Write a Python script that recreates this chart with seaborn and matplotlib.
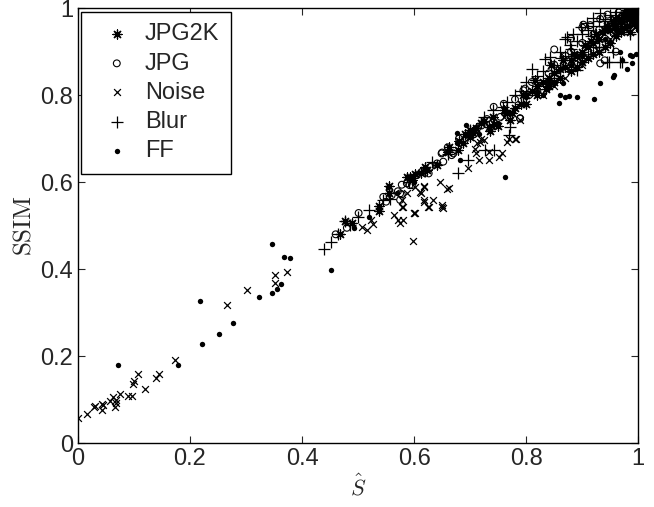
import numpy as np
import pandas as pd
import seaborn as sns
import matplotlib.pyplot as plt

# valores (S chapeu, SSIM) por tipo de distorcao
jpg2k_x = [0.467, 0.476, 0.490, 0.537, 0.538, 0.555, 0.556, 0.587, 0.593, 0.596, 0.602, 0.612,
           0.620, 0.623, 0.640, 0.660, 0.663, 0.679, 0.680, 0.688, 0.690, 0.700, 0.700, 0.705,
           0.710, 0.720, 0.725, 0.733, 0.736, 0.740, 0.742, 0.750, 0.760, 0.766, 0.771, 0.775,
           0.780, 0.790, 0.800, 0.800, 0.810, 0.820, 0.820, 0.830, 0.835, 0.840, 0.840, 0.850,
           0.850, 0.860, 0.860, 0.870, 0.880, 0.880, 0.885, 0.890, 0.890, 0.900, 0.900, 0.910,
           0.910, 0.915, 0.920, 0.920, 0.930, 0.930, 0.935, 0.940, 0.940, 0.950, 0.950, 0.955,
           0.960, 0.960, 0.965, 0.970, 0.970, 0.975, 0.980, 0.980, 0.985, 0.990, 0.990, 0.995,
           0.997, 1.000, 0.945, 0.958, 0.962, 0.972, 0.978, 0.983, 0.988, 0.993, 0.996, 0.999,
           0.975, 0.985, 0.992, 0.998, 0.905, 0.925, 0.865, 0.845, 0.815, 0.795]
jpg2k_y = [0.480, 0.510, 0.505, 0.545, 0.534, 0.575, 0.590, 0.612, 0.612, 0.605, 0.618, 0.620,
           0.635, 0.628, 0.640, 0.670, 0.681, 0.674, 0.695, 0.689, 0.710, 0.704, 0.720, 0.712,
           0.725, 0.735, 0.740, 0.727, 0.717, 0.750, 0.733, 0.730, 0.765, 0.758, 0.743, 0.760,
           0.770, 0.780, 0.800, 0.780, 0.810, 0.820, 0.800, 0.830, 0.815, 0.840, 0.820, 0.850,
           0.830, 0.860, 0.840, 0.865, 0.880, 0.855, 0.895, 0.890, 0.865, 0.900, 0.875, 0.910,
           0.885, 0.925, 0.920, 0.895, 0.930, 0.900, 0.945, 0.950, 0.910, 0.950, 0.920, 0.965,
           0.960, 0.935, 0.975, 0.970, 0.945, 0.980, 0.985, 0.960, 0.990, 0.990, 0.975, 0.995,
           0.985, 1.000, 0.960, 0.975, 0.950, 0.985, 0.995, 0.975, 0.998, 0.985, 0.960, 0.992,
           0.955, 0.945, 0.965, 0.975, 0.915, 0.940, 0.880, 0.870, 0.835, 0.800]

jpg_x = [0.460, 0.480, 0.501, 0.545, 0.550, 0.560, 0.571, 0.575, 0.575, 0.578, 0.578, 0.587,
         0.592, 0.596, 0.605, 0.614, 0.626, 0.629, 0.641, 0.649, 0.650, 0.652, 0.660, 0.667,
         0.670, 0.680, 0.690, 0.700, 0.709, 0.712, 0.720, 0.730, 0.742, 0.754, 0.760, 0.780,
         0.789, 0.789, 0.795, 0.798, 0.810, 0.820, 0.840, 0.850, 0.850, 0.860, 0.870, 0.880,
         0.880, 0.890, 0.900, 0.900, 0.902, 0.910, 0.914, 0.920, 0.930, 0.932, 0.932, 0.940,
         0.940, 0.950, 0.960, 0.960, 0.970, 0.980, 0.990, 0.995, 0.945, 0.955, 0.965, 0.975,
         0.985, 0.988, 0.996, 0.925, 0.895, 0.875, 0.835, 0.805]
jpg_y = [0.480, 0.495, 0.529, 0.566, 0.555, 0.570, 0.579, 0.574, 0.559, 0.572, 0.594, 0.597,
         0.593, 0.593, 0.616, 0.624, 0.620, 0.635, 0.643, 0.666, 0.668, 0.647, 0.680, 0.662,
         0.666, 0.700, 0.695, 0.710, 0.720, 0.723, 0.730, 0.745, 0.773, 0.750, 0.780, 0.790,
         0.747, 0.746, 0.811, 0.815, 0.830, 0.810, 0.850, 0.870, 0.905, 0.860, 0.890, 0.900,
         0.930, 0.870, 0.920, 0.955, 0.962, 0.900, 0.961, 0.940, 0.950, 0.873, 0.975, 0.930,
         0.880, 0.960, 0.970, 0.900, 0.980, 0.970, 0.990, 1.000, 0.985, 0.945, 0.990, 0.960,
         0.995, 0.975, 0.985, 0.915, 0.890, 0.860, 0.825, 0.800]

noise_x = [0.000, 0.017, 0.029, 0.031, 0.043, 0.043, 0.045, 0.058, 0.063, 0.066, 0.068, 0.068,
           0.075, 0.090, 0.096, 0.098, 0.101, 0.108, 0.120, 0.140, 0.145, 0.173, 0.267, 0.301,
           0.352, 0.352, 0.373, 0.507, 0.516, 0.523, 0.526, 0.565, 0.571, 0.575, 0.578, 0.579,
           0.580, 0.581, 0.587, 0.598, 0.599, 0.600, 0.601, 0.602, 0.611, 0.612, 0.617, 0.617,
           0.617, 0.618, 0.624, 0.626, 0.634, 0.646, 0.649, 0.650, 0.651, 0.658, 0.662, 0.697,
           0.709, 0.711, 0.712, 0.716, 0.718, 0.720, 0.724, 0.733, 0.733, 0.752, 0.757, 0.760,
           0.766, 0.769, 0.780, 0.781, 0.789, 0.830, 0.850, 0.870, 0.900, 0.930, 0.950, 0.970,
           0.980, 0.990, 1.000]
noise_y = [0.057, 0.067, 0.082, 0.086, 0.090, 0.076, 0.087, 0.097, 0.106, 0.083, 0.093, 0.100,
           0.112, 0.108, 0.109, 0.137, 0.143, 0.160, 0.124, 0.150, 0.160, 0.192, 0.317, 0.351,
           0.369, 0.386, 0.394, 0.497, 0.490, 0.513, 0.503, 0.524, 0.513, 0.505, 0.559, 0.543,
           0.543, 0.513, 0.574, 0.465, 0.529, 0.529, 0.529, 0.589, 0.578, 0.575, 0.589, 0.590,
           0.559, 0.555, 0.543, 0.543, 0.559, 0.601, 0.542, 0.547, 0.540, 0.585, 0.587, 0.632,
           0.677, 0.666, 0.689, 0.651, 0.693, 0.700, 0.697, 0.670, 0.651, 0.658, 0.666, 0.750,
           0.693, 0.700, 0.698, 0.700, 0.743, 0.800, 0.820, 0.840, 0.870, 0.900, 0.930, 0.950,
           0.990, 0.970, 0.990]

blur_x = [0.439, 0.452, 0.464, 0.476, 0.486, 0.500, 0.520, 0.545, 0.557, 0.590, 0.620, 0.632,
          0.660, 0.679, 0.697, 0.700, 0.725, 0.727, 0.740, 0.742, 0.759, 0.766, 0.769, 0.771,
          0.780, 0.790, 0.800, 0.810, 0.820, 0.830, 0.834, 0.843, 0.850, 0.860, 0.870, 0.870,
          0.873, 0.879, 0.880, 0.884, 0.890, 0.891, 0.897, 0.900, 0.908, 0.910, 0.920, 0.920,
          0.930, 0.930, 0.932, 0.940, 0.944, 0.947, 0.950, 0.955, 0.960, 0.968, 0.971, 0.980,
          0.985, 0.990, 1.000, 0.938, 0.952, 0.965, 0.975, 0.995, 0.915, 0.862]
blur_y = [0.446, 0.463, 0.480, 0.510, 0.501, 0.520, 0.535, 0.558, 0.562, 0.600, 0.625, 0.647,
          0.665, 0.620, 0.651, 0.720, 0.750, 0.674, 0.765, 0.674, 0.773, 0.785, 0.708, 0.727,
          0.800, 0.810, 0.830, 0.860, 0.845, 0.855, 0.884, 0.888, 0.870, 0.900, 0.890, 0.930,
          0.934, 0.915, 0.905, 0.940, 0.925, 0.857, 0.956, 0.940, 0.965, 0.950, 0.977, 0.960,
          0.970, 0.910, 0.988, 0.975, 0.877, 0.877, 0.985, 0.900, 0.990, 0.877, 0.877, 0.995,
          0.940, 1.000, 0.998, 0.960, 0.970, 0.975, 0.990, 0.985, 0.935, 0.885]

ff_x = [0.072, 0.178, 0.218, 0.221, 0.252, 0.276, 0.324, 0.346, 0.346, 0.355, 0.363, 0.367,
        0.379, 0.452, 0.493, 0.520, 0.554, 0.570, 0.600, 0.640, 0.676, 0.676, 0.682, 0.693,
        0.715, 0.750, 0.763, 0.780, 0.800, 0.820, 0.830, 0.840, 0.859, 0.861, 0.865, 0.870,
        0.876, 0.880, 0.891, 0.900, 0.920, 0.921, 0.931, 0.940, 0.955, 0.956, 0.960, 0.968,
        0.970, 0.971, 0.980, 0.980, 0.985, 0.986, 0.988, 0.989, 0.990, 0.995, 0.996, 0.999,
        1.000]
ff_y = [0.179, 0.179, 0.327, 0.227, 0.251, 0.277, 0.336, 0.346, 0.457, 0.354, 0.365, 0.428,
        0.425, 0.399, 0.495, 0.520, 0.588, 0.575, 0.600, 0.640, 0.712, 0.690, 0.651, 0.731,
        0.710, 0.735, 0.612, 0.770, 0.795, 0.810, 0.800, 0.830, 0.781, 0.800, 0.827, 0.795,
        0.798, 0.870, 0.796, 0.890, 0.920, 0.790, 0.828, 0.930, 0.842, 0.846, 0.950, 0.900,
        0.965, 0.880, 0.861, 0.975, 0.960, 0.892, 0.890, 0.873, 0.985, 0.970, 0.895, 0.949,
        0.990]

series = [
    ('JPG2K', jpg2k_x, jpg2k_y, (8, 2, 0), 42, 0.9),
    ('JPG', jpg_x, jpg_y, 'o', 24, 0.8),
    ('Noise', noise_x, noise_y, 'x', 24, 0.9),
    ('Blur', blur_x, blur_y, '+', 85, 0.9),
    ('FF', ff_x, ff_y, '.', 60, 0.0),
]

sns.set_style('ticks')
plt.rcParams['font.family'] = ['Liberation Sans', 'DejaVu Sans']
plt.rcParams['mathtext.fontset'] = 'cm'

fig, ax = plt.subplots(figsize=(6.54, 5.07), dpi=100)
fig.subplots_adjust(left=0.119, right=0.976, bottom=0.126, top=0.984)

for nome, xs, ys, mk, tam, lw in series:
    df = pd.DataFrame({'x': xs, 'y': ys})
    if mk == 'o':
        sns.scatterplot(data=df, x='x', y='y', ax=ax, marker=mk, s=tam,
                        facecolor='none', edgecolor='black', linewidth=lw, label=nome)
    else:
        sns.scatterplot(data=df, x='x', y='y', ax=ax, marker=mk, s=tam,
                        color='black', edgecolor='black', linewidth=lw, label=nome)

ax.set_xlim(0, 1)
ax.set_ylim(0, 1)
ax.set_xticks(np.arange(0, 1.01, 0.2))
ax.set_yticks(np.arange(0, 1.01, 0.2))
ax.set_xticklabels(['0', '0.2', '0.4', '0.6', '0.8', '1'])
ax.set_yticklabels(['0', '0.2', '0.4', '0.6', '0.8', '1'])
ax.tick_params(direction='in', top=True, right=True, labelsize=17, length=5, width=0.8)
for sp in ax.spines.values():
    sp.set_visible(True)
    sp.set_linewidth(1.0)
    sp.set_color('black')

ax.set_xlabel(r'$\hat{S}$', fontsize=16, labelpad=3)
ax.set_ylabel(r'$\mathrm{SSIM}$', fontsize=18, labelpad=3)

leg = ax.legend(loc='upper left', bbox_to_anchor=(0, 1), borderaxespad=0.15, fontsize=17,
                labelspacing=0.3, fancybox=False, framealpha=1, edgecolor='black',
                handlelength=2.0, handletextpad=0.2, borderpad=0.5)
leg.get_frame().set_linewidth(1.0)

plt.savefig('out.png', dpi=100)
